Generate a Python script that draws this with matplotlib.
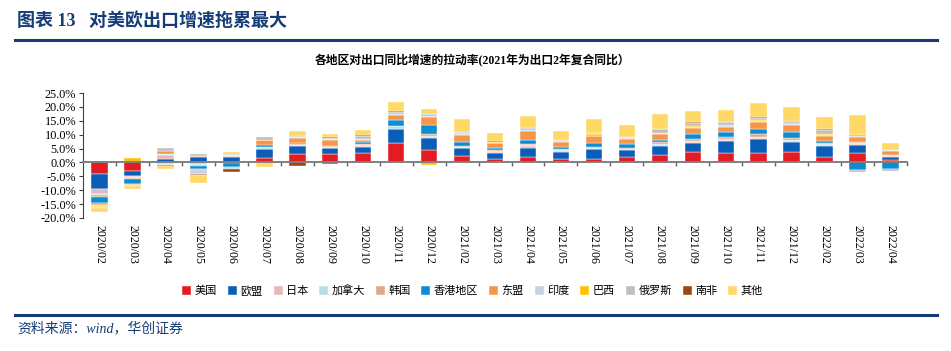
"""
各地区对出口同比增速的拉动率 堆积柱状图
"""

import numpy as np
import matplotlib
matplotlib.use("Agg")
import matplotlib.pyplot as plt
from matplotlib.ticker import FixedLocator, FuncFormatter

plt.rcParams['font.family'] = ['Liberation Serif', 'Noto Sans CJK SC', 'DejaVu Sans']
plt.rcParams['axes.unicode_minus'] = False

# 月份
months = ['2020/02', '2020/03', '2020/04', '2020/05', '2020/06', '2020/07', '2020/08',
          '2020/09', '2020/10', '2020/11', '2020/12', '2021/02', '2021/03', '2021/04',
          '2021/05', '2021/06', '2021/07', '2021/08', '2021/09', '2021/10', '2021/11',
          '2021/12', '2022/02', '2022/03', '2022/04']

regions = ['美国', '欧盟', '日本', '加拿大', '韩国', '香港地区', '东盟', '印度',
           '巴西', '俄罗斯', '南非', '其他']

colors = ['#E31B23', '#0A5EB8', '#E6B9B8', '#B7DEE8', '#DDA98B', '#0B8CD4',
          '#F79646', '#C9D0E5', '#FFC000', '#BFBFBF', '#9A4A0E', '#FFD966']

# 各地区拉动率（%），按月份顺序
us = [-4.1, -3.1, -0.2, -0.1, -0.1, 1.7, 3.1, 3.1, 3.4, 7.0, 4.6, 2.3, 1.2, 2.0,
      1.1, 1.3, 1.8, 2.6, 3.8, 3.4, 3.5, 3.7, 1.9, 3.4, 0.8]
eu = [-5.3, -1.9, 1.1, 1.9, 2.0, 3.0, 2.8, 2.0, 2.2, 4.9, 4.1, 2.8, 2.3, 3.2,
      2.6, 3.4, 2.6, 3.2, 3.2, 4.3, 4.8, 3.6, 4.0, 2.9, 1.2]
japan = [-1.9, -0.3, 1.6, 0.3, 0.3, 0.3, 0.2, 0.2, 0.2, 0.3, 0.5, 0.2, 0.2, 0.6,
         0.3, 0.3, 0.3, 0.4, 0.4, 0.4, 0.5, 0.5, 0.4, 0.3, 0.2]
canada = [-0.4, -0.3, 0.3, -0.7, 0.2, 0.4, 0.3, 0.4, 0.5, 0.8, 0.3, 0.3, 0.3, 0.4,
          0.3, 0.3, 0.2, 0.4, 0.3, 0.4, 0.4, 0.4, 0.3, 0.3, 0.3]
korea = [-0.6, -0.5, -0.5, -0.4, -0.2, 0.2, 0.2, 0.2, 0.2, 0.3, 0.6, 0.2, 0.3, 0.5,
         0.4, 0.4, 0.4, 0.6, 0.6, 0.5, 0.9, 0.6, 0.5, 0.4, 0.3]
hongkong = [-2.3, -1.6, 0.2, -1.0, -1.4, 0.5, 0.4, -0.6, 0.7, 1.9, 3.4, 1.4, 0.8, 1.4,
            0.8, 1.3, 1.4, 1.0, 1.8, 1.8, 1.9, 2.2, 0.6, -2.8, -2.2]
asean = [-0.8, -0.3, 0.9, -0.4, 0.2, 1.8, 1.9, 2.2, 1.0, 1.8, 3.0, 2.6, 1.8, 3.2,
         1.9, 2.4, 1.9, 2.0, 2.2, 2.0, 2.6, 2.6, 1.9, 1.8, 1.3]
india = [-0.4, -0.2, -0.2, -1.6, -0.8, 0.1, 0.2, 0.2, 0.2, 0.3, 0.2, 0.3, 0.2, 0.3,
         0.2, 0.3, 0.2, 0.4, 0.5, 0.4, 0.4, 0.4, 0.4, 0.5, 0.3]
brazil = [-0.2, 1.5, -0.1, -0.1, 0.1, 0.1, 0.1, 0.1, 0.1, 0.2, -0.8, 0.6, 0.1, 0.1,
          0.1, 0.6, 0.3, 0.1, 0.3, 0.2, 0.3, 0.2, 0.3, 0.6, 0.1]
russia = [-0.4, -0.2, 1.1, 1.0, 0.3, 1.0, 0.5, 0.5, 1.2, 0.8, 0.6, 0.2, 0.2, 0.6,
          0.4, 0.2, 0.1, 1.2, 1.2, 1.0, 0.8, 0.8, 1.5, -0.6, -1.0]
south_africa = [-0.1, -0.1, -0.2, -0.3, -1.0, -0.2, -1.4, 0.1, 0.1, 0.1, 0.1, 0.1, 0.2, 0.1,
                0.1, 0.1, 0.1, 0.1, 0.1, 0.1, 0.2, 0.1, 0.1, 0.2, 0.1]
others = [-1.5, -1.1, -1.1, -2.9, 0.6, -1.3, 1.6, 1.2, 2.0, 3.4, 2.0, 4.8, 3.1, 4.4,
          3.2, 4.9, 4.2, 5.4, 4.2, 4.4, 5.0, 4.8, 4.6, 6.8, 2.4]

series = [us, eu, japan, canada, korea, hongkong, asean, india, brazil, russia,
          south_africa, others]

yticks = [-20, -15, -10, -5, 0, 5, 10, 15, 20, 25]

navy = '#163C78'

fig = plt.figure(figsize=(9.51, 3.51), dpi=100)

# 标题和上下分隔线
fig.text(0.018, 0.94, '图表 13   对美欧出口增速拖累最大', fontsize=13, fontweight='bold',
         color=navy, va='center', ha='left')
fig.add_artist(plt.Line2D([0.016, 0.985], [0.885, 0.885], color=navy, lw=2.2))
fig.add_artist(plt.Line2D([0.016, 0.985], [0.103, 0.103], color=navy, lw=2.2))
fig.text(0.018, 0.065, '资料来源：wind，华创证券', fontsize=10, style='italic',
         color=navy, va='center', ha='left')
fig.text(0.497, 0.828, '各地区对出口同比增速的拉动率(2021年为出口2年复合同比）',
         fontsize=8.5, fontweight='bold', va='center', ha='center')

ax = fig.add_axes([0.0873, 0.379, 0.8665, 0.356])

x = np.arange(len(months))
pos = np.zeros(len(months))
neg = np.zeros(len(months))
for name, vals, c in zip(regions, series, colors):
    v = np.array(vals)
    bottom = np.where(v >= 0, pos, neg)
    ax.bar(x, v, width=0.5, bottom=bottom, color=c, edgecolor='white',
           linewidth=0.3, label=name, zorder=2)
    pos = pos + np.where(v >= 0, v, 0)
    neg = neg + np.where(v < 0, v, 0)

ax.set_xlim(-0.5, len(months) - 0.5)
ax.set_ylim(-20, 25)
ax.set_yticks(yticks)
ax.yaxis.set_major_formatter(FuncFormatter(lambda v, p: f'{v:.1f}%'))
ax.tick_params(axis='y', labelsize=8.8, length=3, width=0.8, color='#404040', pad=2)

# 横轴放在0处，刻度在类别之间，标签放在下方
ax.spines['bottom'].set_position(('data', 0))
ax.spines['bottom'].set_color('#808080')
ax.spines['bottom'].set_linewidth(1.4)
ax.spines['bottom'].set_zorder(3)
ax.spines['left'].set_color('#404040')
ax.spines['left'].set_linewidth(0.8)
ax.spines['top'].set_visible(False)
ax.spines['right'].set_visible(False)
ax.xaxis.set_major_locator(FixedLocator(x[:-1] + 0.5))
ax.xaxis.set_major_formatter(FuncFormatter(lambda v, p: ''))
ax.xaxis.set_minor_locator(FixedLocator(x))
ax.set_xticklabels(months, minor=True, rotation=-90, fontsize=8.6)
ax.tick_params(axis='x', which='major', length=3, width=1, color='#606060', direction='out')
ax.tick_params(axis='x', which='minor', length=0, pad=45)
ax.plot([len(months) - 0.5, len(months) - 0.5], [0, -0.9], color='#606060', lw=1,
        clip_on=False)

fig.legend(loc='center', bbox_to_anchor=(0.497, 0.172), ncol=12, frameon=False,
           fontsize=8, handlelength=0.8, handleheight=0.8, handletextpad=0.3,
           columnspacing=1.0, prop={'family': ['Noto Sans CJK SC'], 'size': 8})

fig.savefig('out.png', dpi=100)
